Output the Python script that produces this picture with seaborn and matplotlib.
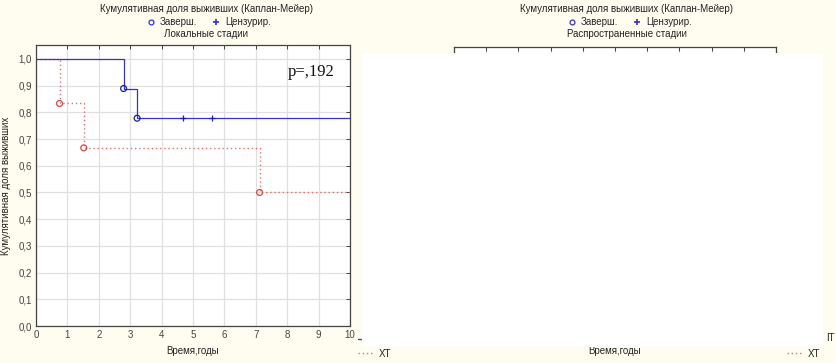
from __future__ import annotations

import numpy as np
import seaborn as sns
from matplotlib import pyplot as plt
from matplotlib.lines import Line2D
from matplotlib.patches import Rectangle


# Локальные стадии: event times (years) and survival after each event
IT_EVENT_TIMES = [2.79, 3.22]
IT_SURVIVAL = [0.889, 0.778]
IT_CENSORED_TIMES = [4.67, 5.61]

XT_EVENT_TIMES = [0.75, 1.52, 7.12]
XT_SURVIVAL = [0.833, 0.667, 0.5]

FOLLOW_UP_END = 10.0
P_VALUE_TEXT = "p=,192"

X_TICKS = list(range(0, 11))
Y_TICKS = [round(0.1 * i, 1) for i in range(0, 11)]

MAIN_TITLE = "Кумулятивная доля выживших (Каплан-Мейер)"
LEFT_SUBTITLE = "Локальные стадии"
RIGHT_SUBTITLE = "Распространенные стадии"
X_LABEL = "Время,годы"
Y_LABEL = "Кумулятивная доля выживших"

BG = "#fffdf0"
BLUE = "#3434c8"
RED = "#e87070"
W, H = 836, 363


def fx(px: float) -> float:
    return px / W


def fy(py: float) -> float:
    return 1 - py / H


def km_curve(times: list[float], surv: list[float]) -> tuple[np.ndarray, np.ndarray]:
    x = np.array([0.0] + times + [FOLLOW_UP_END])
    y = np.array([1.0] + surv + [surv[-1]])
    return x, y


def style_axes(ax: plt.Axes) -> None:
    ax.set_facecolor("white")
    ax.set_xlim(0, 10)
    ax.set_ylim(0, 1.052)
    ax.set_xticks(X_TICKS)
    ax.set_yticks(Y_TICKS)
    ax.set_yticklabels([f"{v:.1f}".replace(".", ",") for v in Y_TICKS])
    ax.grid(True, color="#e0e0e0", linewidth=0.9)
    ax.set_axisbelow(True)
    ax.tick_params(axis="both", which="both", direction="in", length=3, width=0.7,
                   top=True, right=True, labelsize=7, colors="#444444", pad=3)
    for sp in ax.spines.values():
        sp.set_color("#444444")
        sp.set_linewidth(0.9)
    ax.set_xlabel(X_LABEL, fontsize=7, labelpad=4, color="#222222")
    ax.set_ylabel(Y_LABEL, fontsize=7, labelpad=5, color="#222222")


def main() -> None:
    sns.set_theme(style="white")
    plt.rcParams["font.family"] = ["Liberation Sans", "DejaVu Sans"]

    fig = plt.figure(figsize=(W / 100, H / 100), dpi=100, facecolor=BG)
    ax_l = fig.add_axes([fx(36), fy(326), fx(350) - fx(36), fy(45) - fy(326)])
    ax_r = fig.add_axes([fx(454), fy(326), fx(776) - fx(454), fy(47) - fy(326)])
    style_axes(ax_l)
    style_axes(ax_r)

    # Kaplan-Meier step curves
    x_xt, y_xt = km_curve(XT_EVENT_TIMES, XT_SURVIVAL)
    x_it, y_it = km_curve(IT_EVENT_TIMES, IT_SURVIVAL)
    sns.lineplot(x=x_xt, y=y_xt, ax=ax_l, drawstyle="steps-post", estimator=None, sort=False,
                 color=RED, linestyle=(0, (1, 2)), linewidth=1.0)
    sns.lineplot(x=x_it, y=y_it, ax=ax_l, drawstyle="steps-post", estimator=None, sort=False,
                 color=BLUE, linewidth=0.9)
    ax_l.scatter(XT_EVENT_TIMES, XT_SURVIVAL, s=18, facecolors="none", edgecolors="#d84848", linewidths=0.9, zorder=4)
    ax_l.scatter(IT_EVENT_TIMES, IT_SURVIVAL, s=18, facecolors="none", edgecolors="#1c1ca8", linewidths=0.9, zorder=4)
    ax_l.scatter(IT_CENSORED_TIMES, [IT_SURVIVAL[-1]] * len(IT_CENSORED_TIMES), s=22, marker="+",
                 color="#1c1ca8", linewidths=0.9, zorder=4)

    ax_l.text(0.95, 0.905, P_VALUE_TEXT, transform=ax_l.transAxes, ha="right", va="center",
              fontsize=12, family=["Liberation Serif", "DejaVu Serif"], color="#111111")

    # titles and marker legends above each panel
    for cx, sub in [(206, LEFT_SUBTITLE), (627, RIGHT_SUBTITLE)]:
        fig.text(fx(cx), fy(9), MAIN_TITLE, ha="center", va="center", fontsize=7, color="#222222")
        fig.text(fx(cx), fy(34), sub, ha="center", va="center", fontsize=7, color="#222222")
        handles = [
            Line2D([], [], linestyle="none", marker="o", markersize=3.5, markerfacecolor="none",
                   markeredgecolor=BLUE, markeredgewidth=0.9, label="Заверш."),
            Line2D([], [], linestyle="none", marker="+", markersize=4, color=BLUE,
                   markeredgewidth=1.2, label="Цензурир."),
        ]
        fig.legend(handles=handles, loc="center", bbox_to_anchor=(fx(cx + 3), fy(22)), ncol=2,
                   frameon=False, fontsize=7, handlelength=0.8, handletextpad=0.5,
                   columnspacing=1.6, borderpad=0)

    # group legends at the right of each panel
    for lx in [353, 782]:
        handles = [
            Line2D([], [], color=BLUE, linewidth=0.9, label="IT"),
            Line2D([], [], color=RED, linewidth=1.0, linestyle=(0, (1, 2)), label="XT"),
        ]
        fig.legend(handles=handles, loc="upper left", bbox_to_anchor=(fx(lx), fy(330)),
                   frameon=False, fontsize=7, handlelength=1.6, handletextpad=0.6,
                   labelspacing=0.4, borderpad=0)

    # blank white sheet pasted over the right panel
    fig.add_artist(Rectangle((fx(362), fy(347)), fx(823) - fx(362), fy(53) - fy(347),
                             transform=fig.transFigure, facecolor="white", edgecolor="none", zorder=20))
    fig.text(fx(826), fy(338), "IT", ha="left", va="center", fontsize=7, color="#222222", zorder=21)

    fig.savefig("out.png", dpi=100, facecolor=BG)
    plt.close(fig)


if __name__ == "__main__":
    main()
